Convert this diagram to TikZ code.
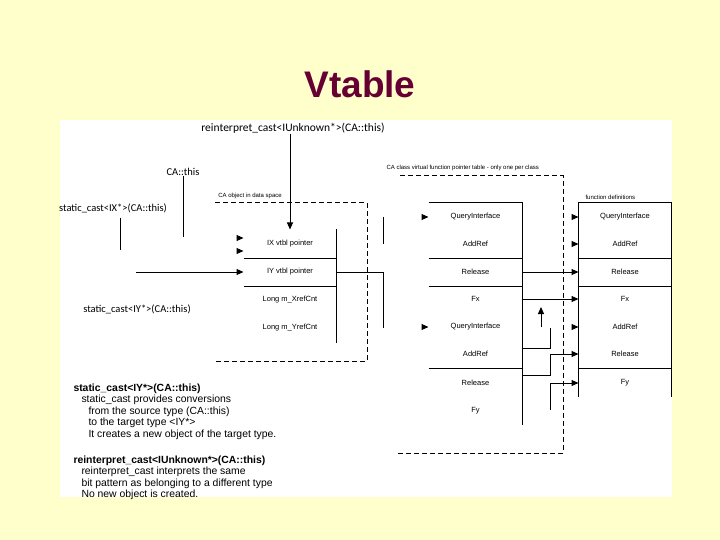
\documentclass[tikz,border=0pt]{standalone}
\usepackage{fontspec}
\setmainfont{Liberation Sans}
\newfontfamily\lblfont{Carlito}
\usetikzlibrary{arrows.meta,positioning,calc}
\definecolor{paleyellow}{HTML}{FFFFCC}
\definecolor{maroon}{HTML}{660033}

\begin{document}
\begin{tikzpicture}[x=1bp, y=-1bp, line width=1bp,
    lbl/.style={font=\lblfont\fontsize{10.5bp}{12bp}\selectfont, inner sep=0pt},
    boxlbl/.style={font=\fontsize{6bp}{7bp}\selectfont, inner sep=0pt},
    datacell/.style={minimum width=92bp, minimum height=28bp, inner sep=0pt, font=\fontsize{7.5bp}{8bp}\selectfont},
    vcell/.style={minimum width=93bp, minimum height=27.5bp, inner sep=0pt, font=\fontsize{7.5bp}{8bp}\selectfont},
    fcell/.style={minimum width=92bp, minimum height=27.5bp, inner sep=0pt, font=\fontsize{7.5bp}{8bp}\selectfont},
    note/.style={align=left, inner sep=0pt, font=\fontsize{10.4bp}{11.5bp}\selectfont},
    dashbox/.style={dash pattern=on 5bp off 3bp},
    tip/.style={-{Triangle[length=7bp,width=6bp]}}
]

% slide background and white panel
\fill[paleyellow] (0,0) rectangle (720,540);
\fill[white] (60,120) rectangle (672,497);
\node[font=\bfseries\fontsize{37bp}{40bp}\selectfont, text=maroon] (title) at (360,84) {Vtable};

% casts
\node[lbl, font=\lblfont\fontsize{11.5bp}{12bp}\selectfont] (reinterp) at (293,128) {reinterpret\_cast<IUnknown*>(CA::this)};
\node[lbl] (cathis) at (183,172) {CA::this};
\node[lbl] (castix) at (113,208) {static\_cast<IX*>(CA::this)};
\node[lbl] (castiy) at (137,309) {static\_cast<IY*>(CA::this)};

% CA object in data space
\node[boxlbl] (datalbl) at (250,196) {CA object in data space};
\draw[dashbox] (215,203) -| (367,361) -- (213,361);

\node[datacell] (ixptr) at (290,244) {IX vtbl pointer};
\node[datacell] (iyptr) at (290,272) {IY vtbl pointer};
\node[datacell] (xref) at (290,300) {Long m\_XrefCnt};
\node[datacell] (yref) at (290,328) {Long m\_YrefCnt};

\draw (ixptr.north east) -- (yref.south east);
\draw (ixptr.south west) -- (ixptr.south east);
\draw (iyptr.south west) -- (iyptr.south east);

% virtual function pointer table
\node[boxlbl, anchor=west] (vtbllbl) at (386,168) {CA class virtual function pointer table - only one per class};
\draw[dashbox] (400,176) -| (563,453) -- (397,453);

\node[vcell] (vqi1) at (475.5,217) {QueryInterface};
\node[vcell] (vadd1) at (475.5,244) {AddRef};
\node[vcell] (vrel1) at (475.5,272) {Release};
\node[vcell] (vfx) at (475.5,299) {Fx};
\node[vcell] (vqi2) at (475.5,327) {QueryInterface};
\node[vcell] (vadd2) at (475.5,354) {AddRef};
\node[vcell] (vrel2) at (475.5,383) {Release};
\node[vcell] (vfy) at (475.5,411) {Fy};

\draw (vqi1.north west) -- (vqi1.north east) -- (vfy.south east);
\draw (vadd1.south west) -- (vadd1.south east);
\draw (vrel1.south west) -- (vrel1.south east);
\draw (vadd2.south west) -- (vadd2.south east);

% function definitions
\node[boxlbl, anchor=west] (funclbl) at (585,197) {function definitions};

\node[fcell] (fqi) at (625,217) {QueryInterface};
\node[fcell] (fadd1) at (625,244) {AddRef};
\node[fcell] (frel1) at (625,272) {Release};
\node[fcell] (ffx) at (625,299) {Fx};
\node[fcell] (fadd2) at (625,327) {AddRef};
\node[fcell] (frel2) at (625,354) {Release};
\node[fcell] (ffy) at (625,383) {Fy};

\draw (ffy.south west) -- (fqi.north west) -- (fqi.north east) -- (ffy.south east);
\draw (fadd1.south west) -- (fadd1.south east);
\draw (frel1.south west) -- (frel1.south east);
\draw (frel2.south west) -- (frel2.south east);

% connectors
\coordinate (cathisend) at (183,237);
\coordinate (castixtop) at (120,218);
\coordinate (castixend) at (120,250);
\coordinate (castiystart) at (136,272);
\coordinate (iyend) at (383,328);
\coordinate (ixlinetop) at (383,217);
\coordinate (ixlinebot) at (383,244);

\draw[tip] (reinterp.south -| ixptr.north) -- (ixptr.north);
\draw (cathis.south) -- (cathisend);
\draw (castixtop) -- (castixend);
\draw[tip] ([xshift=-7bp,yshift=6bp]ixptr.west) -- ([yshift=6bp]ixptr.west);
\draw[tip] ([xshift=-7bp,yshift=-7bp]ixptr.west) -- ([yshift=-7bp]ixptr.west);
\draw[tip] (castiystart) -- (iyptr.west);
\draw (iyptr.east) -| (iyend);
\draw (ixlinetop) -- (ixlinebot);

\draw[tip] ([xshift=-7bp]vqi1.west) -- (vqi1.west);
\draw[tip] ([xshift=-7bp]vqi2.west) -- (vqi2.west);

\coordinate (linkastart) at (522,348);
\coordinate (linkaend) at (550,328);
\coordinate (upbot) at (541,327);
\coordinate (uptop) at (541,307);
\coordinate (linkbstart) at (522,375);
\coordinate (linkcstart) at (550,410);

\draw[tip] (vrel1.east) -- (frel1.west);
\draw[tip] (vfx.east) -- (ffx.west);
\draw (linkastart) -| (linkaend);
\draw[tip] (upbot) -- (uptop);
\draw[tip] (linkbstart) -- ++(28,0) |- (frel2.west);
\draw[tip] (linkcstart) |- (ffy.west);

\draw[tip] ([xshift=-7bp]fqi.west) -- (fqi.west);
\draw[tip] ([xshift=-7bp]fadd1.west) -- (fadd1.west);
\draw[tip] ([xshift=-7bp]fadd2.west) -- (fadd2.west);

% notes
\node[note, anchor=north west] (staticnote) at (73,383) {\textbf{static\_cast<IY*>(CA::this)}\\
\hspace*{8bp}static\_cast provides conversions\\
\hspace*{15bp}from the source type (CA::this)\\
\hspace*{15bp}to the target type <IY*>\\
\hspace*{15bp}It creates a new object of the target type.};
\node[note, anchor=north west] (reinterpnote) at (73,455) {\textbf{reinterpret\_cast<IUnknown*>(CA::this)}\\
\hspace*{8bp}reinterpret\_cast interprets the same\\
\hspace*{8bp}bit pattern as belonging to a different type\\
\hspace*{8bp}No new object is created.};

\end{tikzpicture}
\end{document}
